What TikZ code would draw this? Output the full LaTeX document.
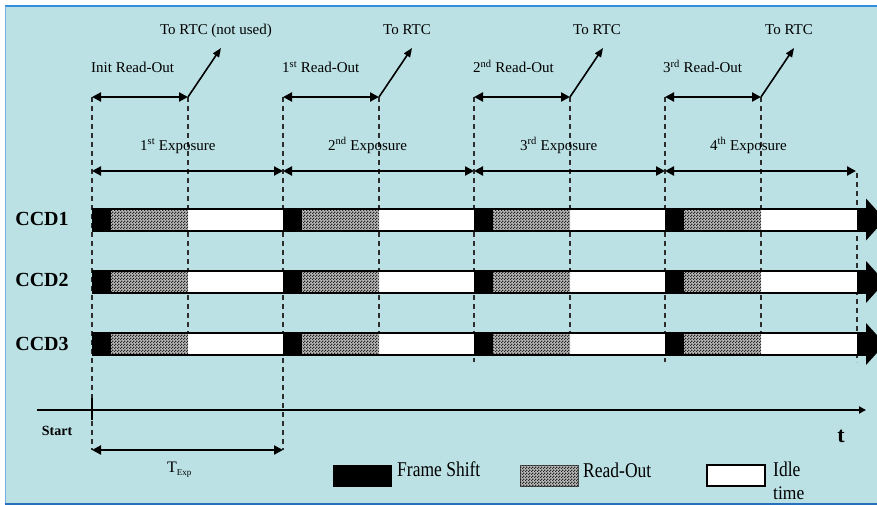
\documentclass[tikz,border=0pt]{standalone}
\usepackage{graphicx}
\usepackage{fontspec}
\setmainfont{Liberation Serif}
\usetikzlibrary{arrows.meta,patterns}
\definecolor{bgblue}{RGB}{187,225,228}
\definecolor{rimtop}{RGB}{52,140,222}
\definecolor{rimbot}{RGB}{38,112,190}
\definecolor{rimleft}{RGB}{120,175,225}
\definecolor{dashgray}{RGB}{45,45,45}
% fine dither used for the read-out phase
\pgfdeclarepatternformonly{dither}{\pgfqpoint{0pt}{0pt}}{\pgfqpoint{3pt}{3pt}}{\pgfqpoint{3pt}{3pt}}{%
  \pgfpathrectangle{\pgfqpoint{0pt}{0pt}}{\pgfqpoint{1.5pt}{1.5pt}}%
  \pgfpathrectangle{\pgfqpoint{1.5pt}{1.5pt}}{\pgfqpoint{1.5pt}{1.5pt}}%
  \pgfusepath{fill}}

\begin{document}
\begin{tikzpicture}[x=1pt,y=-1pt,
  guide/.style={dashgray, line width=1.2pt, dash pattern=on 5pt off 4pt},
  span/.style={line width=2.2pt, {Triangle[length=9pt,width=9pt]}-{Triangle[length=9pt,width=9pt]}},
  rtc/.style={line width=1.6pt, -{Triangle[length=9pt,width=7pt]}},
  lbl/.style={font=\fontsize{15}{15}\selectfont, inner sep=0pt},
  ccd/.style={font=\bfseries\fontsize{20}{20}\selectfont, inner sep=0pt, anchor=base},
  legendtxt/.style={font=\fontsize{17.5}{17.5}\selectfont, inner sep=0pt, anchor=base west},
  shiftseg/.style={fill=black},
  readseg/.style={fill=gray!55, postaction={pattern=dither, pattern color=black!85}},
  idleseg/.style={fill=white, draw=black, line width=1.4pt}
]
\useasboundingbox (0,0) rectangle (877,505);
\fill[white] (0,0) rectangle (877,505);
\fill[bgblue] (5,6) rectangle (877,503);

% ---- timing guides (behind the bars)
\foreach \k in {0,1,2,3}{
  \pgfmathsetmacro{\xa}{92+191*\k}
  \pgfmathsetmacro{\xb}{\xa+96}
  \pgfmathsetmacro{\xc}{\xa+191}
  \pgfmathsetmacro{\ylow}{\k<2 ? 450 : 362}
  \coordinate (ros\k) at (\xa,97);
  \coordinate (roe\k) at (\xb,97);
  \coordinate (rtc\k) at (\xb+33,48);
  \coordinate (exs\k) at (\xa,171);
  \coordinate (exe\k) at (\xc,171);
  \coordinate (gb\k) at (\xa,\ylow);
  \coordinate (rb\k) at (\xb,345);
  \draw[guide] (ros\k) -- (gb\k);
  \draw[guide] (roe\k) -- (rb\k);
}
\coordinate (gtop4) at (857,173);
\coordinate (gb4) at (857,362);
\draw[guide] (gtop4) -- (gb4);

% ---- read-out and exposure spans
\foreach \k in {0,1,2,3}{
  \draw[span] (ros\k) -- (roe\k);
  \draw[span] (exs\k) -- (exe\k);
  \draw[rtc] (roe\k) -- (rtc\k);
}

% ---- labels above the spans
\node[lbl, anchor=base west] (lro0) at (91,72.5) {Init Read-Out};
\node[lbl, anchor=base west] (lro1) at (282,72.5) {1\textsuperscript{st} Read-Out};
\node[lbl, anchor=base west] (lro2) at (473,72.5) {2\textsuperscript{nd} Read-Out};
\node[lbl, anchor=base west] (lro3) at (663,72.5) {3\textsuperscript{rd} Read-Out};
\node[lbl, anchor=base] (lrtc0) at (216,35) {To RTC (not used)};
\node[lbl, anchor=base] (lrtc1) at (407,35) {To RTC};
\node[lbl, anchor=base] (lrtc2) at (597,35) {To RTC};
\node[lbl, anchor=base] (lrtc3) at (789,35) {To RTC};
\node[lbl, anchor=base west] (lex0) at (140,150) {1\textsuperscript{st} Exposure};
\node[lbl, anchor=base west] (lex1) at (328,150) {2\textsuperscript{nd} Exposure};
\node[lbl, anchor=base west] (lex2) at (520,150) {3\textsuperscript{rd} Exposure};
\node[lbl, anchor=base west] (lex3) at (710,150) {4\textsuperscript{th} Exposure};

% ---- CCD timelines
\foreach \r/\yc/\yb in {1/219.5/225, 2/282/286.5, 3/344/350}{
  \node[ccd] (ccd\r) at (42,\yb) {CCD\r};
  \pgfmathsetmacro{\yt}{\yc-11}
  \pgfmathsetmacro{\ybt}{\yc+11}
  \fill[white] (92,\yt) rectangle (857,\ybt);
  \foreach \k in {0,1,2,3}{
    \pgfmathsetmacro{\xa}{92+191*\k}
    \fill[shiftseg] (\xa,\yt) rectangle (\xa+19,\ybt);
    \path[readseg] (\xa+19,\yt) rectangle (\xa+96,\ybt);
  }
  \draw[line width=2pt] (92,\yt) -- (857,\yt);
  \draw[line width=2pt] (92,\ybt) -- (857,\ybt);
  \fill (857,\yt-1) rectangle (866,\ybt+1);
  \fill (866,\yc-21) -- (885,\yc) -- (866,\yc+21) -- cycle;
}

% ---- time axis
\coordinate (ax0) at (37,410);
\coordinate (ax1) at (866,410);
\draw[line width=2.4pt, -{Triangle[length=7pt,width=7pt]}] (ax0) -- (ax1);
\coordinate (tk0) at (92,398);
\coordinate (tk1) at (92,420);
\draw[line width=1.5pt] (tk0) -- (tk1);
\node[font=\bfseries\fontsize{14}{14}\selectfont, inner sep=0pt, anchor=base] (lstart) at (57,435) {Start};
\node[font=\bfseries\fontsize{22}{22}\selectfont, inner sep=0pt, anchor=base] (lt) at (841,442) {t};

% ---- exposure period
\coordinate (te0) at (92,450);
\coordinate (te1) at (283,450);
\draw[span] (te0) -- (te1);
\node[font=\fontsize{16}{16}\selectfont, inner sep=0pt, anchor=base west] (ltexp) at (167,472)
  {T\raisebox{-0.45ex}{\fontsize{9}{9}\selectfont Exp}};

% ---- legend
\fill[black] (333,465) rectangle (392,487);
\node[legendtxt] (lfs) at (397,476) {\scalebox{1}[1.2]{Frame Shift}};
\path[readseg, draw=black!70, line width=0.6pt] (520,465) rectangle (578,486);
\node[legendtxt] (lrd) at (583,477) {\scalebox{1}[1.2]{Read-Out}};
\path[idleseg] (707,465) rectangle (765,486);
\node[legendtxt] (lidle) at (773,476) {\scalebox{1}[1.2]{Idle}};
\node[legendtxt] (ltime) at (773,499.5) {\scalebox{1}[1.1]{time}};

% ---- frame rim
\fill[white] (0,503) rectangle (877,505);
\draw[rimtop, line width=2pt] (5,6) -- (877,6);
\draw[rimleft, line width=1pt] (5,6) -- (5,503);
\draw[rimbot, line width=2pt] (5,503.5) -- (877,503.5);
\end{tikzpicture}
\end{document}
